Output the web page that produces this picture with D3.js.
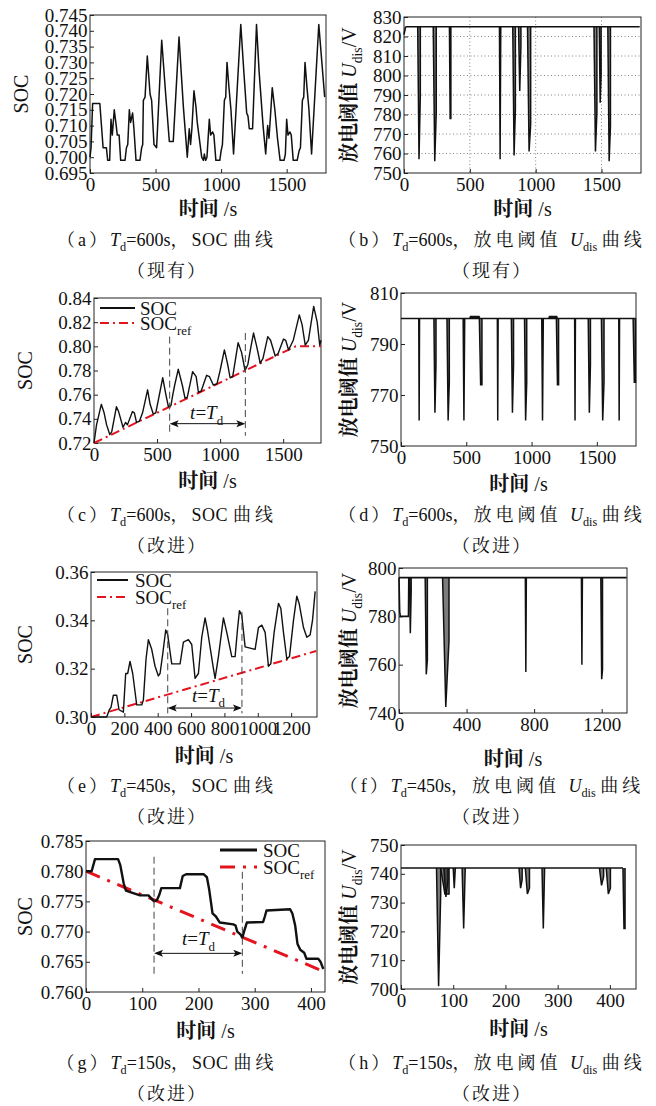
<!DOCTYPE html>
<html>
<head>
<meta charset="utf-8">
<script src="https://cdn.jsdelivr.net/npm/d3@7"></script>
<style>
  body { margin: 0; background: #fff; }
  svg { display: block; }
  text { fill: #111; }
</style>
</head>
<body>
<svg id="fig" width="656" height="1106"></svg>
<script>
// ---- data ----
// (a) SOC, existing strategy, Td = 600 s
var socA = [[0,0.700],[8,0.703],[20,0.717],[75,0.717],[100,0.703],[125,0.703],[135,0.699],[150,0.699],
  [160,0.712],[170,0.707],[185,0.715],[200,0.710],[208,0.707],[222,0.707],[234,0.699],[267,0.699],
  [278,0.703],[288,0.704],[300,0.715],[310,0.711],[325,0.714],[335,0.709],[351,0.699],[381,0.699],
  [394,0.703],[402,0.704],[407,0.718],[420,0.719],[437,0.732],[458,0.720],[470,0.718],[488,0.704],[508,0.703],
  [547,0.737],[577,0.720],[605,0.705],[635,0.705],[679,0.738],[712,0.716],[742,0.700],
  [757,0.709],[767,0.704],[777,0.709],[793,0.721],[808,0.716],[818,0.711],[852,0.700],[865,0.699],[872,0.701],[882,0.699],[892,0.700],
  [910,0.712],[920,0.707],[935,0.708],[945,0.707],[960,0.699],[990,0.699],
  [1000,0.702],[1010,0.704],[1025,0.718],[1035,0.719],[1045,0.730],[1060,0.722],[1075,0.715],[1095,0.701],
  [1150,0.742],[1175,0.726],[1195,0.714],[1205,0.713],[1215,0.709],[1240,0.709],
  [1270,0.742],[1290,0.727],[1320,0.710],[1340,0.701],
  [1355,0.710],[1365,0.706],[1375,0.712],[1390,0.722],[1410,0.715],[1430,0.706],[1450,0.699],[1480,0.699],
  [1490,0.701],[1500,0.712],[1510,0.707],[1525,0.708],[1535,0.707],[1550,0.699],[1580,0.699],
  [1595,0.702],[1605,0.703],[1620,0.718],[1630,0.719],[1640,0.730],[1655,0.722],[1670,0.715],[1690,0.701],
  [1745,0.742],[1790,0.719]];

// (b) discharge threshold, existing: [tLeft, tRight, lowest, shoulder]
var baseB = 825;
var startB = [[0,821],[12,825]];
var spikesB = [[104,124,757,790],[222,245,756,781],[345,356,778,778],[725,735,757,825],
  [826,846,759,783],[870,888,792,815],[938,962,761,775],[1443,1465,761,781],
  [1483,1497,786,800],[1548,1568,756,774]];

// (c) SOC, improved, Td = 600 s
var socC = [[0,0.720],[20,0.735],[58,0.752],[80,0.745],[100,0.735],[125,0.727],[140,0.729],[178,0.750],
  [195,0.746],[230,0.733],[250,0.737],[265,0.735],[305,0.746],[320,0.745],[337,0.737],[360,0.738],
  [385,0.745],[425,0.764],[445,0.752],[470,0.744],[490,0.745],[545,0.774],[570,0.760],[590,0.750],
  [610,0.751],[625,0.760],[640,0.768],[668,0.781],[700,0.768],[722,0.757],[740,0.758],[782,0.779],
  [810,0.775],[828,0.762],[850,0.763],[893,0.776],[915,0.775],[946,0.768],[975,0.769],[1000,0.780],
  [1034,0.797],[1060,0.785],[1079,0.774],[1100,0.775],[1143,0.803],[1170,0.795],[1198,0.780],
  [1220,0.785],[1245,0.800],[1265,0.811],[1290,0.800],[1318,0.786],[1340,0.790],[1378,0.808],
  [1400,0.805],[1437,0.792],[1460,0.794],[1503,0.806],[1520,0.805],[1543,0.797],[1580,0.805],
  [1628,0.826],[1650,0.818],[1675,0.801],[1700,0.805],[1742,0.833],[1770,0.820],[1790,0.801],[1800,0.805]];
var refC = [[0,0.720],[1600,0.800],[1800,0.800]];
var markC = [600, 1200];

// (d) discharge threshold, improved, Td = 600 s
var baseD = 800;
var spikesD = [[136,142,760,800],[252,268,763,782],[352,370,760,775],[476,488,760,800],
  [600,620,774,774],[738,744,760,800],[845,862,763,782],[946,963,760,775],[1078,1090,760,800],
  [1190,1207,774,774],[1330,1336,760,800],[1434,1451,763,782],[1535,1555,760,775],
  [1668,1674,760,800],[1778,1796,775,775]];
var humpsD = [[530,600],[1135,1195]];

// (e) SOC, improved, Td = 450 s
var socE = [[0,0.300],[94,0.300],[110,0.303],[120,0.304],[134,0.309],[154,0.309],[168,0.303],[194,0.302],
  [208,0.318],[220,0.318],[234,0.323],[250,0.318],[274,0.305],[304,0.305],[314,0.307],[330,0.324],
  [344,0.332],[364,0.328],[384,0.321],[404,0.317],[414,0.318],[430,0.326],[448,0.336],[460,0.334],
  [484,0.322],[534,0.322],[554,0.331],[584,0.332],[604,0.330],[624,0.316],[644,0.318],[664,0.333],
  [684,0.341],[698,0.336],[734,0.320],[744,0.316],[764,0.325],[794,0.341],[814,0.335],[844,0.325],
  [864,0.325],[878,0.336],[890,0.344],[904,0.342],[924,0.329],[984,0.328],[1004,0.337],[1024,0.338],
  [1044,0.335],[1064,0.321],[1078,0.322],[1098,0.335],[1124,0.347],[1138,0.345],[1154,0.335],
  [1174,0.324],[1190,0.325],[1214,0.340],[1234,0.350],[1248,0.347],[1274,0.337],[1294,0.333],
  [1314,0.334],[1328,0.340],[1344,0.352]];
var refE = [[0,0.300],[1350,0.3273]];
var markE = [460, 905];

// (f) discharge threshold, improved, Td = 450 s
var baseF = 796;
var startF = [[0,796],[4,782],[8,780],[56,780],[58,796]];
var spikesF = [[62,72,773,790],[155,168,756,762],[258,296,742.5,770],[748,754,757,796],
  [1080,1086,760,796],[1195,1205,754,758]];

// (g) SOC, improved, Td = 150 s
var socG = [[0,0.780],[10,0.780],[16,0.782],[57,0.782],[61,0.781],[64,0.7795],[67,0.778],[71,0.7768],
  [80,0.7765],[96,0.776],[111,0.776],[116,0.7755],[121,0.775],[126,0.7752],[130,0.776],[134,0.7772],
  [167,0.7772],[172,0.7792],[178,0.7795],[209,0.7795],[215,0.779],[219,0.777],[222,0.775],[225,0.773],
  [231,0.7725],[238,0.7715],[262,0.7712],[266,0.771],[269,0.770],[275,0.7695],[278,0.769],[281,0.770],
  [286,0.7715],[315,0.7716],[318,0.7725],[321,0.7735],[363,0.7737],[367,0.773],[372,0.771],[376,0.768],
  [381,0.767],[388,0.7665],[392,0.7655],[413,0.7655],[417,0.765],[422,0.7638]];
var refG = [[0,0.780],[425,0.7633]];
var markG = [121, 278];

// (h) discharge threshold, improved, Td = 150 s
var baseH = 742;
var spikesH = [[68,76,701,733],[76,92,733,733],[82,90,732,738],[100,104,735,742],[117,123,721,742],
  [226,232,735,738],[238,246,733,735],[270,275,721,742],[380,388,736,739],[393,401,733,735],
  [425,429,721,721]];

// tick values
var ticksA = d3.range(0.695, 0.7451, 0.005), ticksB = d3.range(750, 831, 10);
var ticksC = d3.range(0.72, 0.8401, 0.02), ticksD = [750, 770, 790, 810];
var ticksE = d3.range(0.30, 0.3601, 0.02), ticksF = [740, 760, 780, 800];
var ticksG = d3.range(0.760, 0.7851, 0.005), ticksH = d3.range(700, 751, 10);
var xTicks1800 = [0, 500, 1000, 1500];

var SERIF = '"Liberation Serif","Times New Roman",serif';
var MIXED = '"Liberation Serif","Noto Serif CJK SC","Noto Sans CJK SC",serif';
var RED = '#e3141e';

var svg = d3.select('#fig');

// text made of pieces: {t, i: italic, sub: subscript, back: return to baseline}
function rich(sel, parts, size) {
  parts.forEach(function(p) {
    var ts = sel.append('tspan').text(p.t);
    if (p.i) ts.attr('font-style', 'italic');
    if (p.sub) ts.attr('font-size', size * 0.68).attr('dy', size * 0.28);
    if (p.back) ts.attr('dy', -size * 0.28);
    if (p.ls != null) ts.attr('letter-spacing', p.ls);
  });
  return sel;
}

function panel(p) {
  var g = svg.append('g');
  var x = d3.scaleLinear().domain(p.xDom).range([p.x0, p.x1]);
  var y = d3.scaleLinear().domain(p.yDom).range([p.y1, p.y0]);

  if (p.grid) {
    g.selectAll('.hg').data(p.yTicks.slice(1, -1)).enter().append('line')
      .attr('x1', p.x0).attr('x2', p.x1).attr('y1', y).attr('y2', y)
      .attr('stroke', '#666').attr('stroke-width', 0.8).attr('stroke-dasharray', '1,2.5');
    g.selectAll('.vg').data(p.xTicks.slice(1)).enter().append('line')
      .attr('y1', p.y0).attr('y2', p.y1).attr('x1', x).attr('x2', x)
      .attr('stroke', '#666').attr('stroke-width', 0.8).attr('stroke-dasharray', '1,2.5');
  }

  var ax = g.append('g').attr('transform', 'translate(0,' + p.y1 + ')')
    .call(d3.axisBottom(x).tickValues(p.xTicks).tickSizeInner(-4).tickSizeOuter(0).tickPadding(4.5)
      .tickFormat(d3.format('d')));
  var ay = g.append('g').attr('transform', 'translate(' + p.x0 + ',0)')
    .call(d3.axisLeft(y).tickValues(p.yTicks).tickSizeInner(-4).tickSizeOuter(0).tickPadding(2.5)
      .tickFormat(d3.format(p.yFmt)));
  [ax, ay].forEach(function(a) {
    a.attr('font-family', SERIF).attr('font-size', 19);
    a.select('.domain').remove();
    a.selectAll('line').attr('stroke', '#222');
    a.selectAll('text').attr('fill', '#111');
  });

  g.append('rect').attr('x', p.x0).attr('y', p.y0)
    .attr('width', p.x1 - p.x0).attr('height', p.y1 - p.y0)
    .attr('fill', 'none').attr('stroke', '#222').attr('stroke-width', 1);

  // x label
  var xl = g.append('text').attr('x', (p.x0 + p.x1) / 2).attr('y', p.xlY)
    .attr('text-anchor', 'middle').attr('font-family', MIXED).attr('font-size', 20)
    .attr('font-weight', 'bold');
  xl.append('tspan').text('时间 ');
  xl.append('tspan').attr('font-weight', 'normal').text('/s');

  // y label
  var yl = g.append('text')
    .attr('transform', 'translate(' + p.ylX + ',' + (p.y0 + p.y1) / 2 + ') rotate(-90)')
    .attr('text-anchor', 'middle').attr('font-family', MIXED).attr('font-size', 20);
  if (p.yLabel === 'soc') {
    yl.text('SOC');
  } else {
    yl.append('tspan').attr('font-weight', 'bold').text('放电阈值 ');
    rich(yl, [{t: 'U', i: true}, {t: 'dis', sub: true}, {t: '/V', back: true}], 20);
  }
  return {g: g, x: x, y: y};
}

function lineOf(P) {
  return d3.line().x(function(d) { return P.x(d[0]); }).y(function(d) { return P.y(d[1]); });
}

function socPanel(p, soc, ref, marks, leg) {
  var P = panel(p), line = lineOf(P);
  if (ref) {
    P.g.append('path').datum(ref).attr('d', line).attr('fill', 'none')
      .attr('stroke', RED).attr('stroke-width', p.refW).attr('stroke-dasharray', p.refDash);
  }
  P.g.append('path').datum(soc).attr('d', line).attr('fill', 'none')
    .attr('stroke', '#111').attr('stroke-width', p.socW).attr('stroke-linejoin', 'round');
  if (!marks) return P;

  // Td markers
  P.g.selectAll('.mk').data(marks).enter().append('line')
    .attr('x1', P.x).attr('x2', P.x)
    .attr('y1', function(d, i) { return P.y(p.markTop[i]); })
    .attr('y2', P.y(p.markBot))
    .attr('stroke', '#444').attr('stroke-width', 1).attr('stroke-dasharray', '7,4');
  var ay = P.y(p.arrowV), xa = P.x(marks[0]), xb = P.x(marks[1]);
  P.g.append('line').attr('x1', xa + 2).attr('x2', xb - 2).attr('y1', ay).attr('y2', ay)
    .attr('stroke', '#111').attr('stroke-width', 1);
  P.g.append('path').attr('d', 'M' + xa + ',' + ay + 'l9,-3.5l-2,3.5l2,3.5z').attr('fill', '#111');
  P.g.append('path').attr('d', 'M' + xb + ',' + ay + 'l-9,-3.5l2,3.5l-2,3.5z').attr('fill', '#111');
  var lt = P.g.append('text').attr('x', P.x(p.labT)).attr('y', P.y(p.labV))
    .attr('text-anchor', 'middle').attr('font-family', SERIF).attr('font-size', 19);
  rich(lt, [{t: 't', i: true}, {t: '='}, {t: 'T', i: true}, {t: 'd', sub: true}], 19);

  // legend
  P.g.append('line').attr('x1', leg[0]).attr('x2', leg[1]).attr('y1', leg[2]).attr('y2', leg[2])
    .attr('stroke', '#111').attr('stroke-width', p.socW + 0.6);
  P.g.append('line').attr('x1', leg[0]).attr('x2', leg[1]).attr('y1', leg[3]).attr('y2', leg[3])
    .attr('stroke', RED).attr('stroke-width', p.refW).attr('stroke-dasharray', p.refDash);
  P.g.append('text').attr('x', leg[4]).attr('y', leg[2] + 6.5)
    .attr('font-family', SERIF).attr('font-size', 19).text('SOC');
  var rt = P.g.append('text').attr('x', leg[4]).attr('y', leg[3] + 6.5)
    .attr('font-family', SERIF).attr('font-size', 19);
  rich(rt, [{t: 'SOC'}, {t: 'ref', sub: true}], 19);
  return P;
}

function udisPanel(p, base, spikes, extra) {
  var P = panel(p), line = lineOf(P);
  var span = p.baseSpan || p.xDom;
  P.g.append('path').datum([[span[0], base], [span[1], base]]).attr('d', line)
    .attr('fill', 'none').attr('stroke', '#111').attr('stroke-width', 1.6);
  (extra || []).forEach(function(seg) {
    P.g.append('path').datum(seg).attr('d', line).attr('fill', 'none')
      .attr('stroke', '#111').attr('stroke-width', 1.6);
  });
  P.g.selectAll('.sp').data(spikes).enter().append('path')
    .attr('d', function(s) {
      var tm = (s[0] + s[1]) / 2;
      return line([[s[0], base], [tm, s[2]], [s[1], s[3]], [s[1], base]]);
    })
    .attr('fill', '#111').attr('fill-opacity', 0.55)
    .attr('stroke', '#111').attr('stroke-width', 1.5).attr('stroke-linejoin', 'miter');
  return P;
}

// ---- panels ----
socPanel({x0: 90, x1: 326, y0: 15, y1: 173, xDom: [0, 1800], yDom: [0.695, 0.745],
  xTicks: xTicks1800, yTicks: ticksA, yFmt: '.3f', xlY: 216, ylX: 28, yLabel: 'soc', socW: 1.5},
  socA, null, null, null);

udisPanel({x0: 404, x1: 641, y0: 17, y1: 173, xDom: [0, 1800], yDom: [750, 830],
  xTicks: xTicks1800, yTicks: ticksB, yFmt: 'd', xlY: 216, ylX: 356, yLabel: 'udis', grid: true,
  baseSpan: [12, 1790]}, baseB, spikesB, [startB]);

socPanel({x0: 94, x1: 321, y0: 298, y1: 443, xDom: [0, 1800], yDom: [0.72, 0.84],
  xTicks: xTicks1800, yTicks: ticksC, yFmt: '.2f', xlY: 488, ylX: 32, yLabel: 'soc',
  socW: 1.4, refW: 2, refDash: '9,4,2,4', markTop: [0.808, 0.811], markBot: 0.726,
  arrowV: 0.736, labT: 893, labV: 0.7395},
  socC, refC, markC, [100, 135, 308, 323, 140]);

var pD = udisPanel({x0: 401, x1: 636, y0: 293, y1: 446, xDom: [0, 1800], yDom: [750, 810],
  xTicks: xTicks1800, yTicks: ticksD, yFmt: 'd', xlY: 491, ylX: 356, yLabel: 'udis',
  baseSpan: [0, 1798]}, baseD, spikesD, []);
humpsD.forEach(function(h) {
  pD.g.append('path').datum([[h[0], 800], [h[0] + 4, 800.6], [h[1] - 4, 800.6], [h[1], 800]])
    .attr('d', lineOf(pD)).attr('fill', 'none').attr('stroke', '#111').attr('stroke-width', 2.2);
});

socPanel({x0: 91, x1: 317, y0: 572, y1: 717, xDom: [0, 1355], yDom: [0.30, 0.36],
  xTicks: d3.range(0, 1201, 200), yTicks: ticksE, yFmt: '.2f', xlY: 763, ylX: 32, yLabel: 'soc',
  socW: 1.4, refW: 2, refDash: '9,4,2,4', markTop: [0.345, 0.3435], markBot: 0.3015,
  arrowV: 0.3037, labT: 704, labV: 0.3062},
  socE, refE, markE, [97, 128, 580, 597, 135]);

udisPanel({x0: 399, x1: 627, y0: 568, y1: 713, xDom: [0, 1350], yDom: [740, 800],
  xTicks: [0, 400, 800, 1200], yTicks: ticksF, yFmt: 'd', xlY: 766, ylX: 356, yLabel: 'udis',
  baseSpan: [0, 1348]}, baseF, spikesF, [startF]);

socPanel({x0: 86, x1: 325, y0: 841, y1: 992, xDom: [0, 425], yDom: [0.760, 0.785],
  xTicks: d3.range(0, 401, 100), yTicks: ticksG, yFmt: '.3f', xlY: 1038, ylX: 32, yLabel: 'soc',
  socW: 2.4, refW: 3, refDash: '15,8,3,8', markTop: [0.7824, 0.7799], markBot: 0.763,
  arrowV: 0.7664, labT: 200, labV: 0.7677},
  socG, refG, markG, [220, 257, 850, 867, 263]);

udisPanel({x0: 401, x1: 636, y0: 845, y1: 989, xDom: [0, 450], yDom: [700, 750],
  xTicks: d3.range(0, 401, 100), yTicks: ticksH, yFmt: 'd', xlY: 1036, ylX: 356, yLabel: 'udis',
  baseSpan: [0, 425]}, baseH, spikesH, []);

// ---- captions ----
var captions = [
  ['a', '600', 'soc', '现有', 167, 246], ['b', '600', 'udis', '现有', 492, 246],
  ['c', '600', 'soc', '改进', 167, 521], ['d', '600', 'udis', '改进', 492, 521],
  ['e', '450', 'soc', '改进', 167, 792], ['f', '450', 'udis', '改进', 492, 792],
  ['g', '150', 'soc', '改进', 167, 1069], ['h', '150', 'udis', '改进', 492, 1069]
];
captions.forEach(function(c) {
  var t = svg.append('text').attr('x', c[4]).attr('y', c[5]).attr('text-anchor', 'middle')
    .attr('font-family', MIXED).attr('font-size', 18);
  var parts = [{t: '（' + c[0] + '）', ls: 3}, {t: 'T', i: true, ls: 0}, {t: 'd', sub: true, ls: 0},
    {t: '=' + c[1] + 's', back: true, ls: 0}, {t: '，', ls: 3}];
  if (c[2] === 'soc') parts.push({t: 'SOC ', ls: 0.5}, {t: '曲线', ls: 4});
  else parts.push({t: '放电阈值 ', ls: 4}, {t: 'U', i: true, ls: 0}, {t: 'dis', sub: true, ls: 0},
    {t: ' ', back: true, ls: 0}, {t: '曲线', ls: 4});
  rich(t, parts, 18);
  svg.append('text').attr('x', c[4]).attr('y', c[5] + 31).attr('text-anchor', 'middle')
    .attr('font-family', MIXED).attr('font-size', 18).attr('letter-spacing', 2)
    .text('（' + c[3] + '）');
});
</script>
</body>
</html>
